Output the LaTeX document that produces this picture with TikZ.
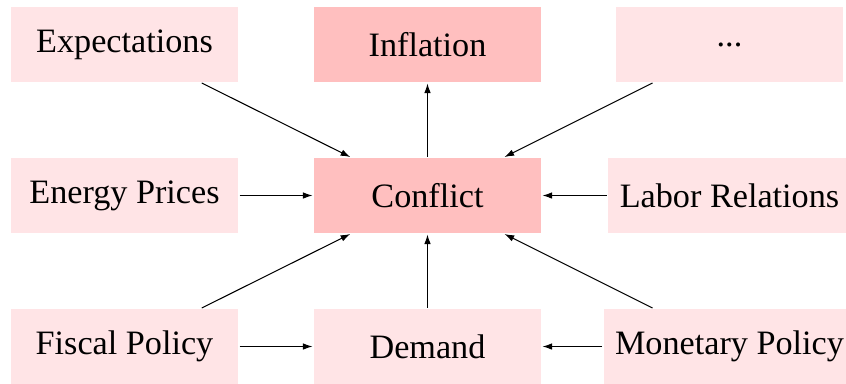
\documentclass[tikz,border=0pt]{standalone}
\usepackage{fontspec}
\setmainfont{Liberation Serif}
\usetikzlibrary{arrows.meta}
\definecolor{boxlight}{RGB}{255,228,230}
\definecolor{boxdark}{RGB}{255,191,191}
\tikzset{
  factor/.style={fill=boxlight, minimum width=75.67pt, minimum height=25pt, inner xsep=3.8pt, font=\fontsize{11.4}{13}\selectfont},
  focus/.style={factor, fill=boxdark},
  link/.style={-{Latex[length=3.2pt,width=2.2pt]}, line width=0.35pt, shorten <=0.3pt, shorten >=0.3pt}
}
\begin{document}
\begin{tikzpicture}[x=0.33333pt, y=-0.33333pt]
\useasboundingbox (0,0) rectangle (846,383);
\node[factor] (exp) at (124.5,44.5) {Expectations};
\node[focus]  (inf) at (427.5,44.5) {Inflation};
\node[factor] (dots) at (729.5,44.5) {...};
\node[factor] (ene) at (124.5,195.5) {Energy Prices};
\node[focus]  (con) at (427.5,195.5) {Conflict};
\node[factor] (lab) at (729.5,195.5) {Labor Relations};
\node[factor] (fis) at (124.5,346.5) {Fiscal Policy};
\node[factor] (dem) at (427.5,346.5) {Demand};
\node[factor] (mon) at (729.5,346.5) {Monetary Policy};
\draw[link] (exp) -- (con);
\draw[link] (con) -- (inf);
\draw[link] (dots) -- (con);
\draw[link] (ene) -- (con);
\draw[link] (lab) -- (con);
\draw[link] (fis) -- (con);
\draw[link] (dem) -- (con);
\draw[link] (mon) -- (con);
\draw[link] (fis) -- (dem);
\draw[link] (mon) -- (dem);
\end{tikzpicture}
\end{document}
